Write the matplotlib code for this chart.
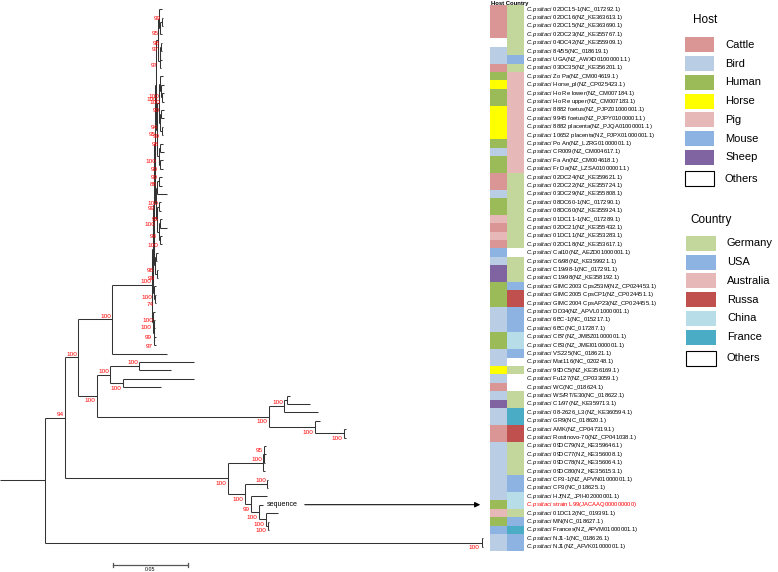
import matplotlib
matplotlib.use("Agg")
import matplotlib.pyplot as plt
from matplotlib.collections import LineCollection
from matplotlib.patches import Rectangle

plt.rcParams["font.family"] = ["Liberation Sans", "DejaVu Sans"]
plt.rcParams["mathtext.fontset"] = "custom"
plt.rcParams["mathtext.it"] = "Liberation Sans:italic"
plt.rcParams["mathtext.rm"] = "Liberation Sans"

# ---- tree (newick pieces, branch lengths in substitutions/site, node names = bootstrap) ----
clade_g1 = ("((02DC15-1:0.0020,((02DC16:0.0010,02DC15:0.0010)99:0.0007,02DC23:0.0013)95:0.0007):0.0007,"
            "(((04DC42:0.0010,84/55:0.0010)98:0.0003,UGA:0.0013)97:0.0003,03DC35:0.0010)97:0.0010):0.0013")
clade_g2 = ("(((Zo Pa:0.0020,(Horse_pl:0.0020,(Ho Re lower:0.0013,Ho Re upper:0.0013)100:0.0007)100:0.0007):0.0007,"
            "((8882 foetus:0.0017,9945 foetus:0.0017)90:0.0010,(8882 placenta:0.0013,10652 placenta:0.0013)99:0.0013)94:0.0007)100:0.0007,"
            "((Po An:0.0017,CR009:0.0030)98:0.0010,(Fa An:0.0017,Fr Da:0.0023)90:0.0010)100:0.0007)95:0.0007")
clade_g3 = ("(((02DC24:0.0020,02DC22:0.0020)99:0.0007,03DC29:0.0065)88:0.0007,"
            "((08DC60-1:0.0013,08DC60:0.0013)100:0.0013,((01DC11-1:0.0013,02DC21:0.0052)95:0.0007,"
            "(01DC11:0.0013,02DC18:0.0013)100:0.0007)94:0.0007)100:0.0007)99:0.0007")
clade_g4 = "((Cal10:0.0013,C6/98:0.0007):0.0007,(C19/98-1:0.0010,C19/98:0.0010)99:0.0010)98:0.0007"
clade_g5 = "(GIMC2003 Cps253M:0.0013,(GIMC2005 CpsCP1:0.0007,GIMC2004 CpsAP23:0.0007)74:0.0007)100:0.0007"
clade_g6 = "(DD34:0.0013,((6BC-1:0.0007,6BC:0.0007)100:0.0003,(CB7:0.0013,CB3:0.0013)97:0.0003)99:0.0003)100:0.0007"
clade_s = "((Mat116:0.0369,99DC5:0.0214)100:0.0194,(Fu127:0.0478,WC:0.0257)100:0.0085)100:0.0087"
clade_far = ("(((WS/RT/E30:0.0020,C1/97:0.0154):0.0020,08-2626_L3:0.0228)100:0.0100,"
             "(GR9:0.0034,(AMK:0.0013,Rostinovo-70:0.0013)100:0.0194)100:0.0308)100:0.1152")
clade_b0 = ("(((09DC79:0.0013,09DC77:0.0013,09DC78:0.0007)95:0.0007,09DC80:0.0013)100:0.0234,"
            "((CP3-1:0.0007,CP3:0.0007)100:0.0147,(HJ:0.0109,(strain L99:0.0031,(01DC12:0.0082,"
            "(MN:0.0005,Frances:0.0005)100:0.0013)100:0.0050)100:0.0051)99:0.0038)100:0.0114)100:0.1092")
clade_nj = "(NJ1-1:0.0007,NJ1:0.0007)100:0.2921"

big_a = "((((( %s,%s):0.0007,%s):0.0007,%s):0.0007,%s):0.0007,%s)100:0.0268" % (
    clade_g1, clade_g2, clade_g3, clade_g4, clade_g5, clade_g6)
big_a = big_a.replace("( ", "(")
newick = "((((%s,VS225:0.0369)100:0.0228,(%s,%s)100:0.0127)100:0.0087,%s)94:0.0134,%s):0.0302;" % (
    big_a, clade_s, clade_far, clade_b0, clade_nj)

# ---- tips (row order) ----
strains = ["02DC15-1", "02DC16", "02DC15", "02DC23", "04DC42", "84/55", "UGA", "03DC35",
           "Zo Pa", "Horse_pl", "Ho Re lower", "Ho Re upper", "8882 foetus", "9945 foetus",
           "8882 placenta", "10652 placenta", "Po An", "CR009", "Fa An", "Fr Da",
           "02DC24", "02DC22", "03DC29", "08DC60-1", "08DC60", "01DC11-1", "02DC21", "01DC11", "02DC18",
           "Cal10", "C6/98", "C19/98-1", "C19/98", "GIMC2003 Cps253M", "GIMC2005 CpsCP1",
           "GIMC2004 CpsAP23", "DD34", "6BC-1", "6BC", "CB7", "CB3", "VS225", "Mat116", "99DC5",
           "Fu127", "WC", "WS/RT/E30", "C1/97", "08-2626_L3", "GR9", "AMK", "Rostinovo-70",
           "09DC79", "09DC77", "09DC78", "09DC80", "CP3-1", "CP3", "HJ", "strain L99", "01DC12",
           "MN", "Frances", "NJ1-1", "NJ1"]
accessions = ["NC_017292.1", "NZ_KE363613.1", "NZ_KE363690.1", "NZ_KE355767.1", "NZ_KE355909.1",
              "NC_018619.1", "NZ_AWXD01000001.1", "NZ_KE356201.1", "NZ_CM004619.1", "NZ_CP025423.1",
              "NZ_CM007184.1", "NZ_CM007183.1", "NZ_PJPZ01000001.1", "NZ_PJPY01000001.1",
              "NZ_PJQA01000001.1", "NZ_PJPX01000001.1", "NZ_LZRG01000001.1", "NZ_CM004617.1",
              "NZ_CM004618.1", "NZ_LZSA01000001.1", "NZ_KE359621.1", "NZ_KE355724.1", "NZ_KE355808.1",
              "NC_017290.1", "NZ_KE355924.1", "NC_017289.1", "NZ_KE355432.1", "NZ_KE353283.1",
              "NZ_KE353617.1", "NZ_AEZD01000001.1", "NZ_KE359921.1", "NC_017291.1", "NZ_KE358192.1",
              "NZ_CP024453.1", "NZ_CP024451.1", "NZ_CP024455.1", "NZ_APVL01000001.1", "NC_015217.1",
              "NC_017287.1", "NZ_JMBZ01000001.1", "NZ_JMEI01000001.1", "NC_018621.1", "NC_020248.1",
              "NZ_KE356169.1", "NZ_CP033059.1", "NC_018624.1", "NC_018622.1", "NZ_KE359713.1",
              "NZ_KE360594.1", "NC_018620.1", "NZ_CP047319.1", "NZ_CP041038.1", "NZ_KE359646.1",
              "NZ_KE356008.1", "NZ_KE356064.1", "NZ_KE356153.1", "NZ_APVN01000001.1", "NC_018625.1",
              "NZ_JPIH02000001.1", "JACAAQ000000000", "NC_019391.1", "NC_018627.1",
              "NZ_APVM01000001.1", "NC_018626.1", "NZ_AFVK01000001.1"]
hosts = ["Cattle"] * 4 + ["Others", "Bird", "Bird", "Cattle", "Human", "Horse", "Human", "Human"] + \
        ["Horse"] * 4 + ["Human", "Bird", "Human", "Human", "Cattle", "Cattle", "Bird", "Human", "Human",
                         "Pig", "Cattle", "Pig", "Cattle", "Mouse", "Bird", "Sheep", "Sheep",
                         "Human", "Human", "Human", "Bird", "Bird", "Bird", "Human", "Human", "Bird", "Bird",
                         "Horse", "Bird", "Cattle", "Bird", "Sheep", "Bird", "Bird", "Cattle", "Cattle"] + \
        ["Bird"] * 7 + ["Human", "Pig", "Human", "Mouse", "Bird", "Bird"]
countries = ["Germany"] * 6 + ["USA", "Germany"] + ["Australia"] * 12 + ["Germany"] * 9 + \
            ["Others", "Germany", "Germany", "Germany", "USA", "Russa", "Russa", "USA", "USA", "USA",
             "China", "China", "USA", "Others", "Germany", "Others", "Others", "Germany", "Germany",
             "France", "France", "Russa", "Russa", "Germany", "Germany", "Germany", "Germany",
             "USA", "USA", "China", "China", "Germany", "USA", "France", "USA", "USA"]
highlight = "strain L99"

host_names = ["Cattle", "Bird", "Human", "Horse", "Pig", "Mouse", "Sheep", "Others"]
host_cols = ["#d99694", "#b9cde5", "#9bbb59", "#ffff00", "#e6b9b8", "#8db3e2", "#8064a2", "#ffffff"]
country_names = ["Germany", "USA", "Australia", "Russa", "China", "France", "Others"]
country_cols = ["#c3d69b", "#8db3e2", "#e6b9b8", "#c0504d", "#b7dee8", "#4bacc6", "#ffffff"]


def parse_newick(s):
    pos = 0

    def node():
        nonlocal pos
        n = {"children": [], "name": "", "len": 0.0}
        if s[pos] == "(":
            pos += 1
            n["children"].append(node())
            while s[pos] == ",":
                pos += 1
                n["children"].append(node())
            pos += 1
        start = pos
        while s[pos] not in ":,);":
            pos += 1
        n["name"] = s[start:pos]
        if s[pos] == ":":
            pos += 1
            start = pos
            while s[pos] not in ",);":
                pos += 1
            n["len"] = float(s[start:pos])
        return n
    return node()


def place(n, x0):
    n["x"] = x0 + n["len"]
    for c in n["children"]:
        place(c, n["x"])
    if n["children"]:
        n["y"] = (n["children"][0]["y"] + n["children"][-1]["y"]) / 2
    else:
        n["y"] = strains.index(n["name"])


tree = parse_newick(newick)
place(tree, 0.0)

# layout (pixels of the 778x572 picture)
W, H = 778, 572
PX = 74.7 / 0.05          # pixels per substitution unit
Y0, DY = 9.1, 8.4         # first row centre, row pitch


def row_of(ypx):
    return (ypx - Y0) / DY


fig = plt.figure(figsize=(W / 100, H / 100), dpi=100)
ax = fig.add_axes([0, 0, 1, 1])
ax.set_xlim(0, W / PX)
ax.set_ylim(row_of(H), row_of(0))
ax.axis("off")

segs = []


def draw(n, px):
    segs.append([(px, n["y"]), (n["x"], n["y"])])
    if not n["children"]:
        return
    segs.append([(n["x"], n["children"][0]["y"]), (n["x"], n["children"][-1]["y"])])
    for i, c in enumerate(n["children"]):
        draw(c, n["x"])
        if c["children"] and c["name"]:
            above = i == 0
            ax.annotate(c["name"], xy=(c["x"], c["y"]),
                        xytext=(-0.8, 0.6) if above else (-1.2, -2.0), textcoords="offset points",
                        ha="right", va="bottom" if above else "top", color="#ff0000", fontsize=4.6)
        if c["name"] == highlight:
            ax.annotate("sequence", xy=(c["x"], c["y"]), xytext=(2.2, 0), textcoords="offset points",
                        va="center", fontsize=5.1)


draw(tree, 0.0)
ax.add_collection(LineCollection(segs, colors="#333333", linewidths=0.75))

# arrow from the highlighted tip to the strip
hl_row = strains.index(highlight)
ax.annotate("", xy=(483 / PX, hl_row), xytext=(302 / PX, hl_row),
            arrowprops=dict(arrowstyle="-|>", color="black", lw=0.75, mutation_scale=8))

# scale bar
sb_x, sb_y = 113 / PX, row_of(565)
ax.plot([sb_x, sb_x + 0.05], [sb_y, sb_y], color="#555555", lw=0.9)
for xx in (sb_x, sb_x + 0.05):
    ax.plot([xx, xx], [sb_y - 0.2, sb_y + 0.2], color="#555555", lw=0.9)
ax.text(sb_x + 0.025, row_of(569.5), "0.05", fontsize=3.8, ha="center", va="center")

# host / country strips and tip labels
ax_s = fig.add_axes([490 / W, 0, 34 / W, 1])
ax_s.set_xlim(0, 2)
ax_s.set_ylim(row_of(H), row_of(0))
ax_s.axis("off")
rows = list(range(len(strains)))
hc = dict(zip(host_names, host_cols))
cc = dict(zip(country_names, country_cols))
ax_s.barh(rows, 1, left=0, height=1.02, color=[hc[h] for h in hosts], linewidth=0)
ax_s.barh(rows, 1, left=1, height=1.02, color=[cc[c] for c in countries], linewidth=0)
ax_s.text(0.05, row_of(3), "Host Country", fontsize=4.2, fontweight="bold", va="center")
for i, (s, a) in enumerate(zip(strains, accessions)):
    col = "#ff0000" if s == highlight else "black"
    ax_s.text(2.12, i, r"$\mathit{C.psittaci}$ " + s + "(" + a + ")", fontsize=4.2,
              va="center", color=col, clip_on=False)

# legends
lax = fig.add_axes([0, 0, 1, 1])
lax.set_xlim(0, W)
lax.set_ylim(H, 0)
lax.axis("off")


def legend_block(title, tx, ty, names, cols, x0, y0, step, pw):
    lax.text(tx, ty, title, fontsize=8.5, va="center")
    for j, (n, c) in enumerate(zip(names, cols)):
        y = y0 + step * j + (2.5 if n == "Others" else 0)
        lax.add_patch(Rectangle((x0, y - 7.5), pw, 15, facecolor=c,
                                edgecolor="black" if n == "Others" else "none", lw=0.8))
        lax.text(x0 + pw + 11, y, n, fontsize=8, va="center")


legend_block("Host", 693, 20, host_names, host_cols, 685, 44.8, 18.75, 29)
legend_block("Country", 690.5, 220, country_names, country_cols, 686, 243.3, 18.75, 30)

fig.savefig("out.png", dpi=100)
